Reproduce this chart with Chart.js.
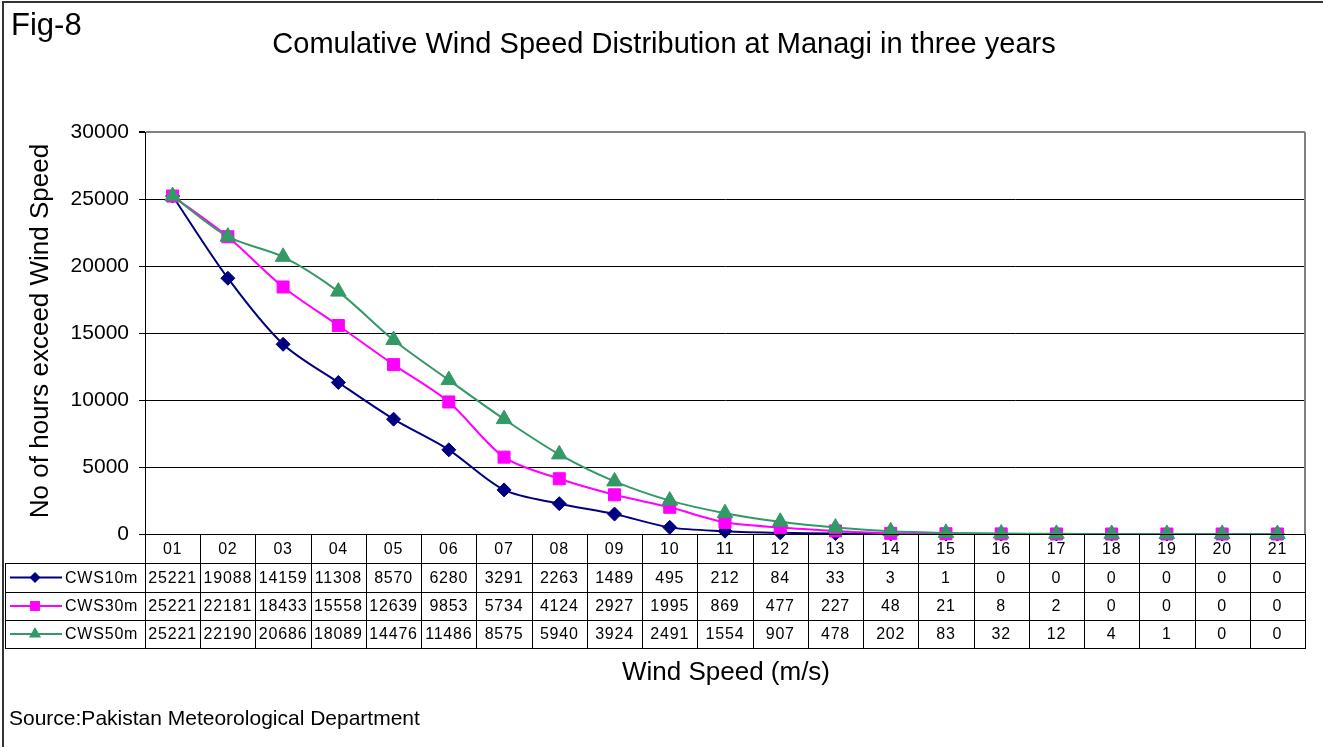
<!DOCTYPE html>
<html>
<head>
<meta charset="utf-8">
<script src="https://cdn.jsdelivr.net/npm/chart.js@4.4.1/dist/chart.umd.min.js"></script>
<style>
  html, body { margin: 0; padding: 0; background: #fff; }
  #c { display: block; }
</style>
</head>
<body>
<canvas id="c" width="1323" height="747"></canvas>
<script>
const categories = ['01','02','03','04','05','06','07','08','09','10','11','12','13','14','15','16','17','18','19','20','21'];
const cws10m = [25221,19088,14159,11308,8570,6280,3291,2263,1489,495,212,84,33,3,1,0,0,0,0,0,0];
const cws30m = [25221,22181,18433,15558,12639,9853,5734,4124,2927,1995,869,477,227,48,21,8,2,0,0,0,0];
const cws50m = [25221,22190,20686,18089,14476,11486,8575,5940,3924,2491,1554,907,478,202,83,32,12,4,1,0,0];
const seriesNames = ['CWS10m','CWS30m','CWS50m'];
const yTicks = [0,5000,10000,15000,20000,25000,30000];

const FONT = '"Liberation Sans", Arial, sans-serif';
const colors = ['#000080', '#FF00FF', '#339966'];
const shapes = ['rectRot', 'rect', 'triangle'];
const radii = [7, 8.5, 9];
const seriesData = [cws10m, cws30m, cws50m];

function drawMarker(ctx, shape, x, y, r, color) {
  ctx.save();
  ctx.fillStyle = color;
  ctx.beginPath();
  if (shape === 'rectRot') {
    ctx.moveTo(x - r, y); ctx.lineTo(x, y - r); ctx.lineTo(x + r, y); ctx.lineTo(x, y + r);
  } else if (shape === 'rect') {
    const s = Math.SQRT1_2 * r;
    ctx.rect(x - s, y - s, 2 * s, 2 * s);
  } else {
    const w = r * Math.sqrt(3) / 2;
    ctx.moveTo(x, y - r); ctx.lineTo(x + w, y + r / 2); ctx.lineTo(x - w, y + r / 2);
  }
  ctx.closePath();
  ctx.fill();
  ctx.restore();
}

const tablePlugin = {
  id: 'tablePlugin',
  beforeDraw(chart) {
    const ctx = chart.ctx;
    ctx.save();
    ctx.fillStyle = '#fff';
    ctx.fillRect(0, 0, chart.width, chart.height);
    ctx.restore();
  },
  afterDraw(chart) {
    const ctx = chart.ctx;
    const area = chart.chartArea;
    const xs = chart.scales.x;
    const n = categories.length;
    const bounds = [area.left];
    for (let i = 0; i < n - 1; i++) {
      bounds.push((xs.getPixelForValue(i) + xs.getPixelForValue(i + 1)) / 2);
    }
    bounds.push(area.right);

    const top = area.bottom;
    const rowLines = [top + 29, top + 58, top + 86, top + 114];
    const tableBottom = rowLines[3];
    const leftEdge = 5;

    ctx.save();
    // plot area right border (gray)
    ctx.strokeStyle = '#808080';
    ctx.lineWidth = 2;
    ctx.beginPath();
    ctx.moveTo(area.right, area.top);
    ctx.lineTo(area.right, area.bottom);
    ctx.stroke();

    // table lines
    ctx.strokeStyle = '#000';
    ctx.lineWidth = 1;
    ctx.beginPath();
    ctx.moveTo(area.left, top + 0.5); ctx.lineTo(area.right, top + 0.5);
    for (const y of rowLines) {
      ctx.moveTo(leftEdge, Math.round(y) + 0.5);
      ctx.lineTo(area.right, Math.round(y) + 0.5);
    }
    for (const b of bounds) {
      const bx = Math.round(b) + 0.5;
      ctx.moveTo(bx, top);
      ctx.lineTo(bx, tableBottom + 1);
    }
    ctx.moveTo(leftEdge + 0.5, rowLines[0]);
    ctx.lineTo(leftEdge + 0.5, tableBottom + 1);
    ctx.stroke();
    ctx.strokeStyle = '#555';
    ctx.beginPath();
    ctx.moveTo(leftEdge - 1.5, rowLines[0]);
    ctx.lineTo(leftEdge - 1.5, tableBottom + 1);
    ctx.stroke();

    // header labels
    ctx.fillStyle = '#000';
    ctx.font = '16px ' + FONT;
    ctx.textAlign = 'center';
    ctx.textBaseline = 'middle';
    ctx.letterSpacing = '0.8px';
    for (let i = 0; i < n; i++) {
      ctx.fillText(categories[i], xs.getPixelForValue(i), (top + rowLines[0]) / 2 + 1);
    }
    // rows
    for (let s = 0; s < 3; s++) {
      const yc = (rowLines[s] + rowLines[s + 1]) / 2 + 1;
      ctx.textAlign = 'center';
      for (let i = 0; i < n; i++) {
        ctx.fillText(String(seriesData[s][i]), xs.getPixelForValue(i), yc);
      }
      // legend key
      ctx.strokeStyle = colors[s];
      ctx.lineWidth = 2;
      ctx.beginPath();
      ctx.moveTo(10, yc - 1); ctx.lineTo(62, yc - 1);
      ctx.stroke();
      drawMarker(ctx, shapes[s], 35, yc - 1, s === 0 ? 5.5 : 7, colors[s]);
      ctx.fillStyle = '#000';
      ctx.textAlign = 'left';
      ctx.fillText(seriesNames[s], 65, yc);
    }
    ctx.letterSpacing = '0px';

    // texts
    ctx.textAlign = 'left';
    ctx.textBaseline = 'alphabetic';
    ctx.font = '31px ' + FONT;
    ctx.fillText('Fig-8', 11, 35);
    ctx.textAlign = 'center';
    ctx.font = '29px ' + FONT;
    ctx.fillText('Comulative Wind Speed Distribution at Managi in three years', 664, 53);
    ctx.font = '26px ' + FONT;
    ctx.fillText('Wind Speed (m/s)', 726, 680);
    ctx.textAlign = 'left';
    ctx.font = '21px ' + FONT;
    ctx.fillText('Source:Pakistan Meteorological Department', 9, 725);
    // y title
    ctx.save();
    ctx.translate(48, 331);
    ctx.rotate(-Math.PI / 2);
    ctx.textAlign = 'center';
    ctx.font = '26px ' + FONT;
    ctx.fillText('No of hours exceed Wind Speed', 0, 0);
    ctx.restore();

    // outer frame (left and top)
    ctx.strokeStyle = '#333';
    ctx.lineWidth = 2;
    ctx.beginPath();
    ctx.moveTo(3, 747); ctx.lineTo(3, 2); ctx.lineTo(1323, 2);
    ctx.stroke();
    ctx.restore();
  }
};

const datasets = seriesNames.map((name, s) => ({
  label: name,
  data: seriesData[s],
  borderColor: colors[s],
  backgroundColor: colors[s],
  pointBackgroundColor: colors[s],
  pointBorderColor: colors[s],
  pointBorderWidth: 1,
  pointStyle: shapes[s],
  pointRadius: radii[s],
  borderWidth: 2,
  tension: 0.3,
  clip: false,
  order: 2 - s
}));

new Chart(document.getElementById('c'), {
  type: 'line',
  data: { labels: categories, datasets },
  options: {
    responsive: false,
    animation: false,
    devicePixelRatio: 1,
    layout: { padding: { left: 0, top: 132, right: 18, bottom: 213 } },
    plugins: { legend: { display: false }, tooltip: { enabled: false }, title: { display: false } },
    scales: {
      x: { type: 'category', display: false, offset: true },
      y: {
        min: 0, max: 30000,
        afterFit(scale) { scale.width = 145; },
        afterBuildTicks(scale) { scale.ticks = yTicks.map(v => ({ value: v })); },
        ticks: { color: '#000', font: { family: FONT, size: 21 }, padding: 10, callback: v => String(v) },
        grid: {
          color: ctx => (ctx.tick && ctx.tick.value === 30000) ? '#808080' : '#000',
          lineWidth: ctx => (ctx.tick && ctx.tick.value === 30000) ? 2 : 1,
          tickColor: '#000', tickLength: 6
        },
        border: { display: true, color: '#000', width: 1 }
      }
    }
  },
  plugins: [tablePlugin]
});
</script>
</body>
</html>
